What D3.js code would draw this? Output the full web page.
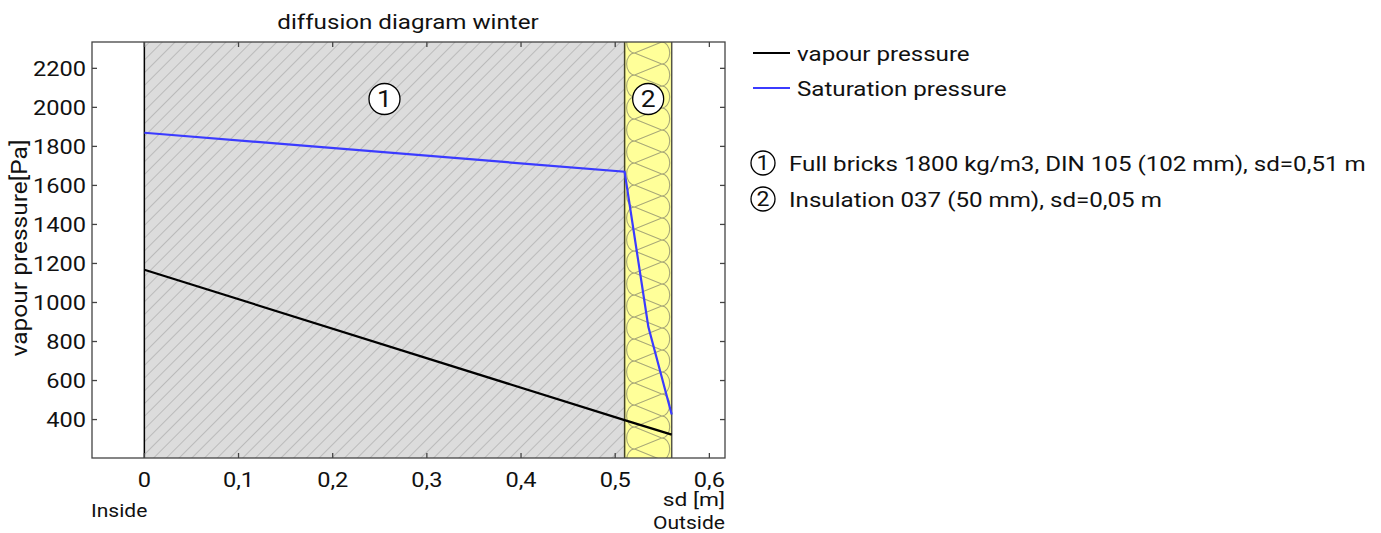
<!DOCTYPE html>
<html><head><meta charset="utf-8">
<script src="https://cdn.jsdelivr.net/npm/d3@7"></script>
<style>
body{margin:0;background:#fff;}
text{font-family:Roboto,"Noto Sans",sans-serif;fill:#111;}
</style></head>
<body><svg id="c" width="1381" height="533"></svg>
<script>
// ---- data ----
const xTicks = [0, 0.1, 0.2, 0.3, 0.4, 0.5, 0.6];
const yTicks = [400, 600, 800, 1000, 1200, 1400, 1600, 1800, 2000, 2200];
const layerNames = ["Full bricks 1800 kg/m3, DIN 105 (102 mm), sd=0,51 m", "Insulation 037 (50 mm), sd=0,05 m"];
const layerStart = [0, 0.51];
const layerEnd = [0.51, 0.56];
const vapourX = [0, 0.51, 0.56];
const vapourY = [1168, 397, 323];
const saturationX = [0, 0.51, 0.5352, 0.56];
const saturationY = [1870, 1670, 875, 426];
const seriesNames = ["vapour pressure", "Saturation pressure"];
const seriesColors = ["#000000", "#3b3bff"];

const svg = d3.select("#c");
const L = 92, R = 725, T = 42, B = 458;
const K = 1.15; // horizontal glyph stretch of the reference font
const x = d3.scaleLinear().domain([-0.0556, 0.6166]).range([L, R]);
const y = d3.scaleLinear().domain([203, 2335]).range([B, T]);

function txt(g, tx, ty, s, size, anchor, rot, k) {
  return g.append("text")
    .attr("transform", `translate(${tx},${ty})${rot ? " rotate(-90)" : ""} scale(${k || K},1)`)
    .attr("font-size", size).attr("text-anchor", anchor || "start").text(s);
}

const defs = svg.append("defs");
const hs = 9;
const hp = defs.append("pattern").attr("id", "hatch").attr("patternUnits", "userSpaceOnUse")
  .attr("width", hs).attr("height", hs).attr("patternTransform", "rotate(45)");
hp.append("rect").attr("width", hs).attr("height", hs).attr("fill", "#dcdcdc");
hp.append("line").attr("x1", 0).attr("y1", 0).attr("x2", 0).attr("y2", hs).attr("stroke", "#9a9a9a").attr("stroke-width", 1);

// brick layer
svg.append("rect").attr("x", x(layerStart[0])).attr("y", T).attr("width", x(layerEnd[0]) - x(layerStart[0]))
  .attr("height", B - T).attr("fill", "url(#hatch)");
// insulation layer
const ix0 = x(layerStart[1]), ix1 = x(layerEnd[1]);
svg.append("rect").attr("x", ix0).attr("y", T).attr("width", ix1 - ix0).attr("height", B - T).attr("fill", "#ffff99");
const clip = defs.append("clipPath").attr("id", "insclip");
clip.append("rect").attr("x", ix0).attr("y", T).attr("width", ix1 - ix0).attr("height", B - T);
{
  const r = 11, pad = 2, rx = 8;
  const xl = ix0 + pad + rx, xr = ix1 - pad - rx;
  let q = "";
  for (let c = T - 2 * r; c < B + 2 * r; c += 2 * r) {
    q += `M${xl},${c - r}A${rx},${r} 0 0 0 ${xl},${c + r}L${xr},${c}A${rx},${r} 0 0 1 ${xr},${c + 2 * r}L${xl},${c + r}`;
  }
  svg.append("path").attr("d", q).attr("fill", "none").attr("stroke", "#a8a878").attr("stroke-width", 1.1)
    .attr("clip-path", "url(#insclip)");
}
// layer borders
svg.append("line").attr("x1", x(0)).attr("x2", x(0)).attr("y1", T).attr("y2", B).attr("stroke", "#000").attr("stroke-width", 1.5);
svg.append("line").attr("x1", x(0.51)).attr("x2", x(0.51)).attr("y1", T).attr("y2", B).attr("stroke", "#444428").attr("stroke-width", 1.5);
svg.append("line").attr("x1", x(0.56)).attr("x2", x(0.56)).attr("y1", T).attr("y2", B).attr("stroke", "#555545").attr("stroke-width", 1.5);

// frame + ticks
const frame = svg.append("g").attr("stroke", "#444").attr("stroke-width", 1.3);
frame.append("rect").attr("x", L).attr("y", T).attr("width", R - L).attr("height", B - T).attr("fill", "none");
xTicks.forEach(v => {
  frame.append("line").attr("x1", x(v)).attr("x2", x(v)).attr("y1", B).attr("y2", B - 5);
  frame.append("line").attr("x1", x(v)).attr("x2", x(v)).attr("y1", T).attr("y2", T + 5);
});
yTicks.forEach(v => {
  frame.append("line").attr("x1", L).attr("x2", L + 5).attr("y1", y(v)).attr("y2", y(v));
  frame.append("line").attr("x1", R).attr("x2", R - 5).attr("y1", y(v)).attr("y2", y(v));
});
const fmt = v => String(v).replace(".", ",");
const xl = svg.append("g");
xTicks.forEach(v => txt(xl, x(v), 487, fmt(v), 20.5, "middle"));
const yl = svg.append("g");
yTicks.forEach(v => txt(yl, 86, y(v) + 7.3, String(v), 20.5, "end"));

// lines
const line = d3.line().x(d => x(d[0])).y(d => y(d[1]));
svg.append("path").datum(saturationX.map((v, i) => [v, saturationY[i]])).attr("d", line)
  .attr("fill", "none").attr("stroke", seriesColors[1]).attr("stroke-width", 2.2);
svg.append("path").datum(vapourX.map((v, i) => [v, vapourY[i]])).attr("d", line)
  .attr("fill", "none").attr("stroke", seriesColors[0]).attr("stroke-width", 2.2);

// layer number circles
const circ = (cx, cy, r, t, fs) => {
  svg.append("circle").attr("cx", cx).attr("cy", cy).attr("r", r).attr("fill", "#fff").attr("stroke", "#000").attr("stroke-width", 1.3);
  txt(svg, cx, cy + fs * 0.36, t, fs, "middle");
};
layerStart.forEach((s, i) => circ((x(s) + x(layerEnd[i])) / 2, 99, 15.5, String(i + 1), 23));

// title and axis labels
txt(svg, 408, 29, "diffusion diagram winter", 21, "middle");
txt(svg, 27, 248, "vapour pressure[Pa]", 21.3, "middle", true);
txt(svg, 91, 517, "Inside", 18.3, "start");
txt(svg, 725, 506, "sd [m]", 17.5, "end", false, 1.3);
txt(svg, 725, 529, "Outside", 18.3, "end");

// legend
seriesNames.forEach((n, i) => {
  const ly = 53 + i * 35;
  svg.append("line").attr("x1", 753).attr("x2", 790).attr("y1", ly).attr("y2", ly).attr("stroke", seriesColors[i]).attr("stroke-width", 2);
  txt(svg, 797, ly + 7.5, n, 21, "start");
});
layerNames.forEach((n, i) => {
  const ly = 163 + i * 36;
  circ(763, ly, 12, String(i + 1), 20);
  txt(svg, 789, ly + 7.5, n, 21, "start");
});
</script></body></html>
